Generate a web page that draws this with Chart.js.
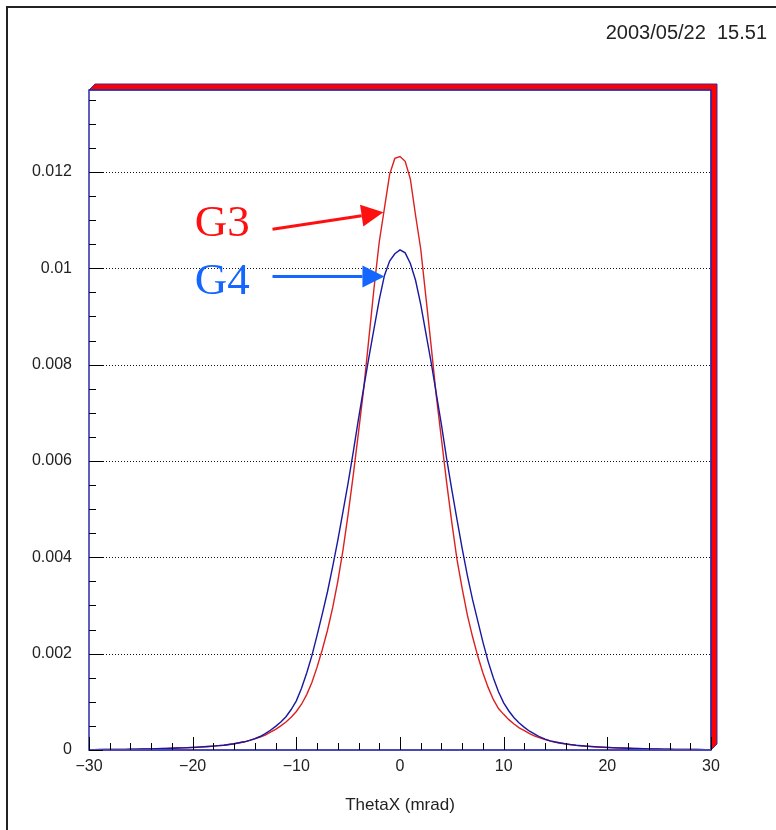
<!DOCTYPE html>
<html>
<head>
<meta charset="utf-8">
<script src="https://cdn.jsdelivr.net/npm/chart.js@4.4.1/dist/chart.umd.min.js"></script>
<style>
  html, body { margin: 0; padding: 0; background: #fff; }
  canvas { display: block; }
</style>
</head>
<body>
<canvas id="chart" width="776" height="830"></canvas>
<script>
// ThetaX histogram, G3 vs G4 (values in units of 1e-3, bins every 0.5 mrad from -30 to 30)
const binStart = -30;
const binStep = 0.5;

const g3 = [
    0.006, 0.007, 0.008, 0.009, 0.010, 0.011, 0.012, 0.014, 0.015, 0.017,
    0.019, 0.021, 0.023, 0.026, 0.029, 0.032, 0.036, 0.040, 0.044, 0.048,
    0.053, 0.058, 0.065, 0.072, 0.080, 0.090, 0.100, 0.115, 0.130, 0.150,
    0.170, 0.200, 0.230, 0.270, 0.310, 0.370, 0.430, 0.500, 0.580, 0.680,
    0.800, 0.950, 1.150, 1.400, 1.720, 2.080, 2.480, 2.950, 3.500, 4.150,
    4.900, 5.720, 6.600, 7.500, 8.550, 9.600, 10.550, 11.250, 11.950, 12.280,
    12.320,
    12.220, 11.850, 11.100, 10.400, 9.400, 8.400, 7.350, 6.450, 5.550, 4.720,
    3.950, 3.350, 2.800, 2.350, 1.950, 1.600, 1.300, 1.050, 0.860, 0.740,
    0.630, 0.540, 0.460, 0.400, 0.340, 0.290, 0.250, 0.215, 0.185, 0.160,
    0.140, 0.125, 0.110, 0.097, 0.087, 0.078, 0.070, 0.063, 0.057, 0.052,
    0.047, 0.043, 0.039, 0.035, 0.031, 0.028, 0.025, 0.022, 0.020, 0.018,
    0.016, 0.015, 0.013, 0.012, 0.011, 0.010, 0.009, 0.008, 0.007, 0.006
];

const g4 = [
    0.007, 0.008, 0.009, 0.010, 0.011, 0.012, 0.013, 0.014, 0.016, 0.018,
    0.020, 0.022, 0.024, 0.027, 0.030, 0.033, 0.037, 0.041, 0.045, 0.050,
    0.055, 0.060, 0.066, 0.073, 0.081, 0.090, 0.100, 0.115, 0.130, 0.150,
    0.170, 0.200, 0.235, 0.280, 0.340, 0.410, 0.490, 0.580, 0.690, 0.840,
    1.020, 1.280, 1.600, 1.960, 2.380, 2.820, 3.280, 3.800, 4.350, 4.950,
    5.550, 6.200, 6.880, 7.520, 8.150, 8.750, 9.350, 9.850, 10.150, 10.300,
    10.380,
    10.320, 10.100, 9.750, 9.250, 8.650, 8.050, 7.400, 6.750, 6.050, 5.400,
    4.780, 4.180, 3.620, 3.120, 2.680, 2.240, 1.840, 1.500, 1.210, 0.980,
    0.810, 0.670, 0.560, 0.470, 0.390, 0.330, 0.270, 0.225, 0.190, 0.165,
    0.145, 0.127, 0.112, 0.099, 0.089, 0.080, 0.072, 0.065, 0.059, 0.054,
    0.049, 0.045, 0.041, 0.037, 0.033, 0.030, 0.027, 0.024, 0.022, 0.020,
    0.018, 0.016, 0.014, 0.013, 0.012, 0.011, 0.010, 0.009, 0.008, 0.007
];

const xTicks = [-30, -20, -10, 0, 10, 20, 30];
const yTicks = [0, 0.002, 0.004, 0.006, 0.008, 0.01, 0.012];
const dateLabel = '2003/05/22  15.51';
const xTitle = 'ThetaX (mrad)';

// annotation anchors, in data coordinates
const labels = [
    { text: 'G3', color: '#ff1010', at: [-19.8, 0.01066], from: [-12.3, 0.01081], to: [-1.6, 0.01116] },
    { text: 'G4', color: '#1466ff', at: [-19.8, 0.00946], from: [-12.3, 0.00983], to: [-1.5, 0.00983] }
];

const toPoints = (arr) => arr.map((v, i) => ({ x: binStart + i * binStep, y: v / 1000 }));

/**
 * ROOT-like frame: shadow, inside ticks, dotted grid, annotations
 */
const rootFrame = {
    id: 'rootFrame',
    beforeDatasetsDraw(chart) {
        const { ctx, chartArea: a, scales: { y } } = chart;
        ctx.save();
        ctx.strokeStyle = '#111';
        ctx.lineWidth = 1;
        ctx.setLineDash([1, 2]);
        yTicks.forEach(v => {
            if (v === 0) return;
            const py = Math.round(y.getPixelForValue(v)) + 0.5;
            ctx.beginPath();
            ctx.moveTo(a.left + 14, py);
            ctx.lineTo(a.right, py);
            ctx.stroke();
        });
        ctx.restore();
    },
    afterDatasetsDraw(chart) {
        const { ctx, chartArea: a, scales: { x, y } } = chart;
        ctx.save();

        // outer pad border
        ctx.strokeStyle = '#222';
        ctx.lineWidth = 2;
        ctx.beginPath();
        ctx.moveTo(7, 830);
        ctx.lineTo(7, 7);
        ctx.lineTo(776, 7);
        ctx.stroke();

        // red frame shadow
        ctx.fillStyle = '#ff0000';
        ctx.strokeStyle = '#3a2aa0';
        ctx.lineWidth = 1;
        ctx.beginPath();
        ctx.moveTo(a.left, a.top);
        ctx.lineTo(a.left + 6, a.top - 6);
        ctx.lineTo(a.right + 6, a.top - 6);
        ctx.lineTo(a.right + 6, a.bottom - 6);
        ctx.lineTo(a.right, a.bottom);
        ctx.lineTo(a.right, a.top);
        ctx.closePath();
        ctx.fill();
        ctx.stroke();

        // frame
        ctx.strokeStyle = '#2a2aa8';
        ctx.lineWidth = 1.5;
        ctx.strokeRect(a.left, a.top, a.right - a.left, a.bottom - a.top);
        ctx.strokeStyle = '#4848b8';
        ctx.lineWidth = 2;
        ctx.beginPath();
        ctx.moveTo(a.left, a.bottom);
        ctx.lineTo(a.right, a.bottom);
        ctx.stroke();

        // inside ticks
        ctx.strokeStyle = '#000';
        ctx.lineWidth = 1;
        for (let v = 0; v <= y.max + 1e-9; v += 0.0005) {
            const py = Math.round(y.getPixelForValue(v)) + 0.5;
            const major = Math.abs(v / 0.002 - Math.round(v / 0.002)) < 1e-6;
            ctx.beginPath();
            ctx.moveTo(a.left, py);
            ctx.lineTo(a.left + (major ? 14 : 7), py);
            ctx.stroke();
        }
        for (let v = -30; v <= 30; v += 2) {
            const px = Math.round(x.getPixelForValue(v)) + 0.5;
            const major = v % 10 === 0;
            ctx.beginPath();
            ctx.moveTo(px, a.bottom);
            ctx.lineTo(px, a.bottom - (major ? 13 : 7));
            ctx.stroke();
        }

        // G3 / G4 labels with arrows
        labels.forEach(l => {
            ctx.fillStyle = l.color;
            ctx.strokeStyle = l.color;
            ctx.font = '45px "Liberation Serif", "DejaVu Serif", serif';
            ctx.textAlign = 'left';
            ctx.textBaseline = 'alphabetic';
            ctx.fillText(l.text, x.getPixelForValue(l.at[0]), y.getPixelForValue(l.at[1]));

            const x0 = x.getPixelForValue(l.from[0]), y0 = y.getPixelForValue(l.from[1]);
            const x1 = x.getPixelForValue(l.to[0]), y1 = y.getPixelForValue(l.to[1]);
            const ang = Math.atan2(y1 - y0, x1 - x0);
            const headLen = 22, headHalf = 11;
            const bx = x1 - headLen * Math.cos(ang), by = y1 - headLen * Math.sin(ang);
            ctx.lineWidth = 3;
            ctx.beginPath();
            ctx.moveTo(x0, y0);
            ctx.lineTo(bx, by);
            ctx.stroke();
            ctx.beginPath();
            ctx.moveTo(x1, y1);
            ctx.lineTo(bx + headHalf * Math.sin(ang), by - headHalf * Math.cos(ang));
            ctx.lineTo(bx - headHalf * Math.sin(ang), by + headHalf * Math.cos(ang));
            ctx.closePath();
            ctx.fill();
        });

        // date stamp
        ctx.fillStyle = '#222';
        ctx.font = '20px "Liberation Sans", Arial, sans-serif';
        ctx.textAlign = 'right';
        ctx.textBaseline = 'alphabetic';
        ctx.fillText(dateLabel, 767, 39);

        ctx.restore();
    }
};

new Chart(document.getElementById('chart'), {
    type: 'line',
    data: {
        datasets: [
            {
                label: 'G4',
                data: toPoints(g4),
                borderColor: '#1818a0',
                borderWidth: 1.4,
                pointRadius: 0,
                fill: false,
                tension: 0
            },
            {
                label: 'G3',
                data: toPoints(g3),
                borderColor: '#dc2020',
                borderWidth: 1.4,
                pointRadius: 0,
                fill: false,
                tension: 0
            }
        ]
    },
    options: {
        responsive: false,
        animation: false,
        layout: { padding: { top: 90, right: 65, left: 0, bottom: 0 } },
        plugins: {
            legend: { display: false },
            tooltip: { enabled: false }
        },
        scales: {
            x: {
                type: 'linear',
                min: -30,
                max: 30,
                afterFit(scale) { scale.height = 80; },
                afterBuildTicks(scale) { scale.ticks = xTicks.map(v => ({ value: v })); },
                grid: { display: false, drawTicks: false },
                border: { display: false },
                ticks: {
                    padding: 7,
                    color: '#222',
                    font: { family: '"Liberation Sans", Arial, sans-serif', size: 16 },
                    maxRotation: 0,
                    callback: (v) => (v < 0 ? '\u2212' + Math.abs(v) : String(v))
                },
                title: {
                    display: true,
                    text: xTitle,
                    color: '#222',
                    font: { family: '"Liberation Sans", Arial, sans-serif', size: 17 },
                    padding: { top: 0, bottom: 14 }
                }
            },
            y: {
                min: 0,
                max: 0.0137,
                afterFit(scale) { scale.width = 89; },
                afterBuildTicks(scale) { scale.ticks = yTicks.map(v => ({ value: v })); },
                grid: { display: false, drawTicks: false },
                border: { display: false },
                ticks: {
                    padding: 17,
                    color: '#222',
                    font: { family: '"Liberation Sans", Arial, sans-serif', size: 16 },
                    callback: (v) => String(v)
                }
            }
        }
    },
    plugins: [rootFrame]
});
</script>
</body>
</html>
